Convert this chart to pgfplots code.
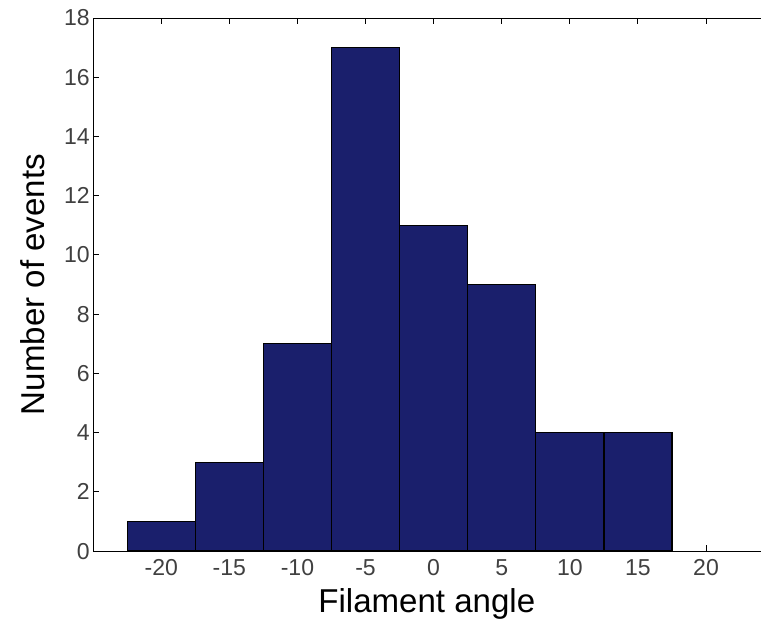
\documentclass[border=0pt]{standalone}
\usepackage{pgfplots}
\pgfplotsset{compat=1.18}
\usepackage{fontspec}
\setmainfont{Liberation Sans}
\definecolor{barblue}{RGB}{26,31,108}
\begin{document}
\begin{tikzpicture}
\begin{axis}[
  scale only axis,
  width=666pt, height=532pt,
  xmin=-25, xmax=24, ymin=0, ymax=18,
  axis y line*=left,
  xtick={-20,-15,...,20},
  ytick={0,2,...,18},
  tick align=inside,
  major tick length=6pt,
  /pgf/number format/assume math mode=true,
  tick label style={font=\fontsize{23}{26}\selectfont, text=black!75},
  xticklabel style={inner sep=2pt, yshift=-6pt},
  label style={font=\fontsize{33}{38}\selectfont},
  xlabel={Filament angle},
  ylabel={Number of events},
  xlabel style={inner sep=0pt, yshift=-11pt},
  ylabel style={yshift=12pt},
  axis line style={line width=1pt},
  tick style={line width=1pt, black},
]
\addplot[ybar interval, fill=barblue, draw=black, line width=1.4pt] coordinates {
(-22.5,1) (-17.5,3) (-12.5,7) (-7.5,17) (-2.5,11) (2.5,9) (7.5,4) (12.5,4) (17.5,4)
};
\end{axis}
\path (current axis.south west) ++(-93pt,-73pt);
\path (current axis.north west) ++(-93pt,18pt);
\end{tikzpicture}
\end{document}
